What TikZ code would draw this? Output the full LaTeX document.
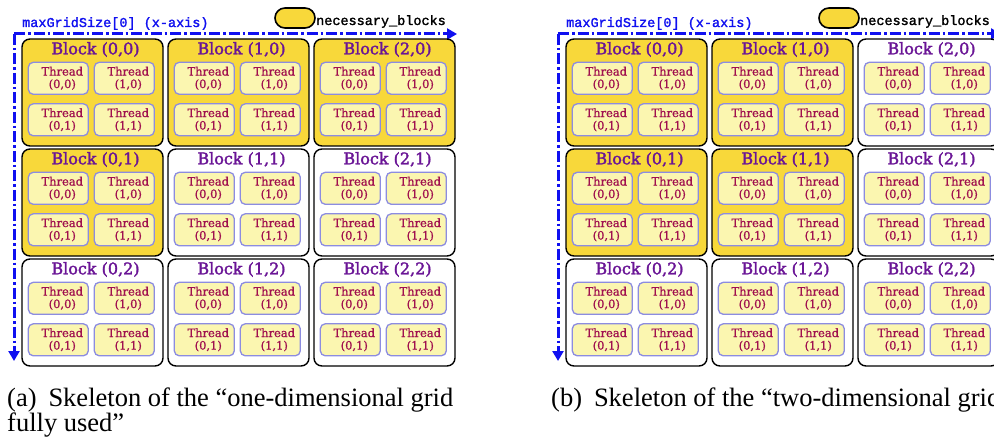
\documentclass[tikz,border=0pt]{standalone}
\usepackage{fontspec}
\setmainfont{Liberation Serif}
\newfontfamily\serfont[FakeBold=1.0]{DejaVu Serif}
\newfontfamily\blkfont[FakeBold=2.0]{DejaVu Serif}
\newfontfamily\monofont[FakeBold=1.6]{Liberation Mono}
\usetikzlibrary{arrows.meta,calc}

\definecolor{gold}{HTML}{F8D83A}
\definecolor{thfill}{HTML}{FBF6B0}
\definecolor{thdraw}{HTML}{8C8CE0}
\definecolor{blkpurple}{HTML}{6A1596}
\definecolor{thtext}{HTML}{A0104F}
\definecolor{axisblue}{HTML}{1010F0}

\tikzset{
  blk/.style={draw=black, line width=1.4pt, rounded corners=8pt,
    minimum width=141pt, minimum height=107pt, inner sep=0pt},
  yblk/.style={blk, fill=gold},
  wblk/.style={blk, fill=white},
  thr/.style={draw=thdraw, fill=thfill, line width=1.3pt, rounded corners=5pt,
    minimum width=60pt, minimum height=32pt, inner sep=0pt},
  thtxt/.style={text=thtext, font=\serfont\fontsize{11.5}{12.5}\selectfont,
    align=center, inner sep=0pt},
  btitle/.style={text=blkpurple, font=\blkfont\fontsize{16}{16}\selectfont,
    inner sep=0pt, anchor=base},
  axisline/.style={draw=axisblue, line width=3pt,
    dash pattern=on 11pt off 3pt on 2.5pt off 3pt,
    -{Triangle[length=10pt,width=11pt]}},
  axlabel/.style={text=axisblue, font=\monofont\fontsize{13.5}{13.5}\selectfont,
    anchor=base west, inner sep=0pt},
  legtxt/.style={text=black, font=\monofont\fontsize{13.5}{13.5}\selectfont,
    anchor=base west, inner sep=0pt},
  legbox/.style={draw=black, fill=gold, line width=1.6pt, rounded corners=10pt,
    minimum width=40pt, minimum height=20pt, inner sep=0pt},
  captxt/.style={font=\fontsize{26.5}{25}\selectfont, anchor=base west, inner sep=0pt}
}

\newcommand\drawpanel[3]{%
  \coordinate (#1corner) at (#2+14,34);
  \coordinate (#1xend) at (#2+457,34);
  \coordinate (#1yend) at (#2+14,361);
  \draw[axisline] (#1corner) -- (#1xend);
  \draw[axisline] (#1corner) -- (#1yend);
  \node[axlabel] (#1axl) at (#2+22,27) {maxGridSize[0] (x-axis)};
  \node[legbox] (#1leg) at (#2+295,18) {};
  \node[legtxt] (#1legt) at (#2+316,25) {necessary\_blocks};
  \foreach \bx/\by/\st in {#3}{%
    \node[\st] (#1b\bx\by) at ({#2+92.5+146*\bx},{92.5+110*\by}) {};
    \node[btitle] (#1bt\bx\by) at ($(#1b\bx\by.north)+(3,16)$) {Block (\bx,\by)};
    \foreach \tx/\ty in {0/0,1/0,0/1,1/1}{%
      \node[thr] (#1th\bx\by\tx\ty) at ($(#1b\bx\by.north west)+(37+66*\tx,40+41.5*\ty)$) {};
      \node[thtxt] (#1tt\bx\by\tx\ty) at ($(#1th\bx\by\tx\ty)+(4,0)$) {Thread\\(\tx,\ty)};
    }
  }
}

\begin{document}
\begin{tikzpicture}[x=1pt,y=-1pt]
  \useasboundingbox (0,0) rectangle (994,441);
  \clip (0,0) rectangle (994,441);
  \fill[white] (0,0) rectangle (994,441);
  \drawpanel{a}{0}{0/0/yblk,1/0/yblk,2/0/yblk,0/1/yblk,1/1/wblk,2/1/wblk,0/2/wblk,1/2/wblk,2/2/wblk}
  \drawpanel{b}{544}{0/0/yblk,1/0/yblk,2/0/wblk,0/1/yblk,1/1/yblk,2/1/wblk,0/2/wblk,1/2/wblk,2/2/wblk}
  \node[captxt] (capa1) at (7,406) {(a)\hspace{0.2em} Skeleton of the ``one-dimensional grid};
  \node[captxt] (capa2) at (7,431) {fully used''};
  \node[captxt] (capb1) at (551,406) {(b)\hspace{0.2em} Skeleton of the ``two-dimensional grid};
\end{tikzpicture}
\end{document}
